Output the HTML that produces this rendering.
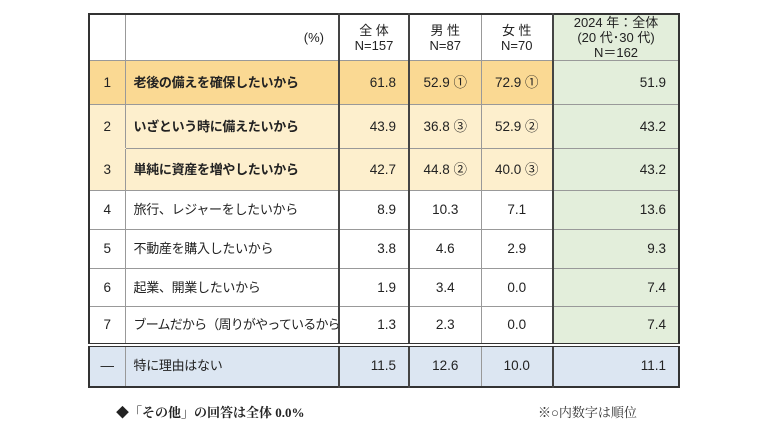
<!DOCTYPE html>
<html><head><meta charset="utf-8">
<style>
body{margin:0;width:770px;height:433px;background:#fff;position:relative;overflow:hidden;font-family:"Liberation Sans","Noto Sans CJK JP",sans-serif;color:#222}
table{position:absolute;left:88px;top:13px;border-collapse:collapse;table-layout:fixed;width:590px;border:2px solid #333}
td{border:1px solid #999;font-size:13.5px;line-height:16px;padding:0;overflow:hidden;white-space:nowrap;vertical-align:middle}
td.rk{text-align:center}
td.lb{padding-left:8px;font-size:13px;letter-spacing:-0.3px}
td.num{text-align:right;padding-right:12px}
td.nc{text-align:center}
td.g{background:#e3eedb}
.thick{border-left:2px solid #444}
.hdr td{text-align:center;font-size:13px;line-height:15px;background:#fff}
.r1 td{background:#fad993}
.r2 td{background:#fdefcd}
.b{font-weight:bold}
.last td{background:#dce6f2;border-top:4px double #333}
.foot{position:absolute;top:402px;font-size:13px;font-family:"Liberation Serif","Noto Serif CJK SC",serif}
</style></head><body>
<table>
<colgroup><col style="width:36px"><col style="width:214px"><col style="width:70px"><col style="width:72px"><col style="width:72px"><col style="width:126px"></colgroup>
<tr class="hdr" style="height:46px">
<td></td><td style="text-align:right;padding-right:14px">(%)</td>
<td class="thick">全 体<br>N=157</td>
<td class="thick">男 性<br>N=87</td>
<td>女 性<br>N=70</td>
<td class="thick g" style="background:#e3eedb">2024 年：全体<br>(20 代･30 代)<br>N＝162</td></tr>
<tr class="r1" style="height:44px">
<td class="rk">1</td><td class="lb b">老後の備えを確保したいから</td><td class="num thick">61.8</td><td class="nc thick">52.9 ①</td><td class="nc">72.9 ①</td><td class="num thick g" style="background:#e3eedb">51.9</td></tr>
<tr class="r2" style="height:44px">
<td class="rk" style="border-bottom-color:#fdefcd">2</td><td class="lb b">いざという時に備えたいから</td><td class="num thick">43.9</td><td class="nc thick">36.8 ③</td><td class="nc">52.9 ②</td><td class="num thick g" style="background:#e3eedb">43.2</td></tr>
<tr class="r2" style="height:42px">
<td class="rk">3</td><td class="lb b">単純に資産を増やしたいから</td><td class="num thick">42.7</td><td class="nc thick">44.8 ②</td><td class="nc">40.0 ③</td><td class="num thick g" style="background:#e3eedb">43.2</td></tr>
<tr style="height:39px">
<td class="rk">4</td><td class="lb">旅行、レジャーをしたいから</td><td class="num thick">8.9</td><td class="nc thick">10.3</td><td class="nc">7.1</td><td class="num thick g">13.6</td></tr>
<tr style="height:39px">
<td class="rk">5</td><td class="lb">不動産を購入したいから</td><td class="num thick">3.8</td><td class="nc thick">4.6</td><td class="nc">2.9</td><td class="num thick g">9.3</td></tr>
<tr style="height:38px">
<td class="rk">6</td><td class="lb">起業、開業したいから</td><td class="num thick">1.9</td><td class="nc thick">3.4</td><td class="nc">0.0</td><td class="num thick g">7.4</td></tr>
<tr style="height:38px">
<td class="rk">7</td><td class="lb" style="letter-spacing:-0.8px">ブームだから（周りがやっているから）</td><td class="num thick">1.3</td><td class="nc thick">2.3</td><td class="nc">0.0</td><td class="num thick g">7.4</td></tr>
<tr class="last" style="height:42px">
<td class="rk">—</td><td class="lb">特に理由はない</td><td class="num thick">11.5</td><td class="nc thick">12.6</td><td class="nc">10.0</td><td class="num thick">11.1</td></tr>
</table>
<div class="foot" style="left:116px;font-weight:bold">◆「その他」の回答は全体 0.0%</div>
<div class="foot" style="left:538px;color:#333">※○内数字は順位</div>
</body></html>
